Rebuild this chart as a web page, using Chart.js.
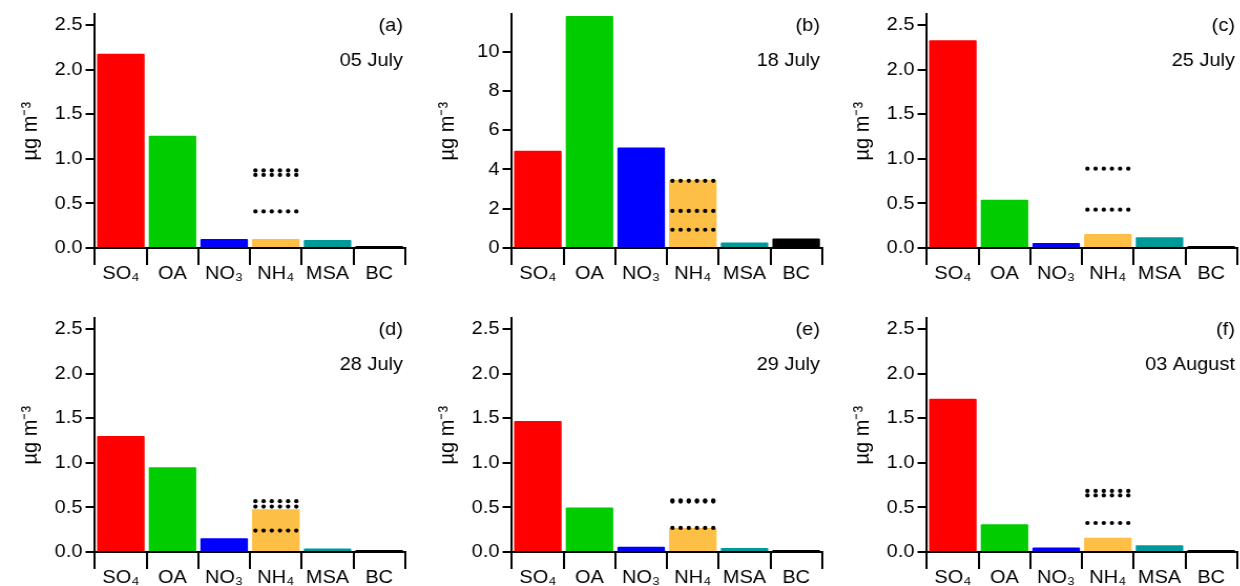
<!DOCTYPE html>
<html>
<head>
<meta charset="utf-8">
<script src="https://cdn.jsdelivr.net/npm/chart.js@4"></script>
<style>
body{margin:0;width:1240px;height:586px;overflow:hidden;background:#fff;position:relative}
.panel{position:absolute;transform-origin:0 0}
</style>
</head>
<body>
<script>
// categories and colours
var labels = ['SO₄','OA','NO₃','NH₄','MSA','BC']
var colors = ['#ff0000','#00cc00','#0000ff','#fdbf45','#009999','#000000']

// one value per panel (a..f)
var panelIds = ['(a)','(b)','(c)','(d)','(e)','(f)']
var dates = ['05 July','18 July','25 July','28 July','29 July','03 August']
var so4 = [2.18, 4.95, 2.33, 1.30, 1.47, 1.72]
var oa  = [1.26, 11.82, 0.54, 0.95, 0.50, 0.31]
var no3 = [0.10, 5.12, 0.055, 0.155, 0.06, 0.05]
var nh4 = [0.10, 3.46, 0.157, 0.48, 0.27, 0.16]
var msa = [0.09, 0.28, 0.12, 0.04, 0.045, 0.075]
var bc  = [0.02, 0.49, 0.015, 0.018, 0.018, 0.018]
// dotted reference levels drawn over the NH4 column
var nh4Ref = [[0.87,0.82,0.41],[3.42,1.89,0.93],[0.89,0.43],[0.57,0.51,0.24],[0.58,0.565,0.27],[0.685,0.635,0.325]]

// axes
var yMax = [2.62, 11.9, 2.62, 2.62, 2.62, 2.62]
var ticksSmall = [0, 0.5, 1, 1.5, 2, 2.5]
var ticksBig = [0, 2, 4, 6, 8, 10]

var S = 1.05 // the figure is a little wider than tall, stretch the canvases
var panelLeft = [0, 417, 832, 0, 417, 832]
var panelTop = [0, 0, 0, 304, 304, 304]
var CW = Math.round(410/S), CH = 290

Chart.defaults.font.family = "'Liberation Sans', Arial, sans-serif"
Chart.defaults.color = '#000'

function makePanel(i){
    var div = document.createElement('div')
    div.className = 'panel'
    div.style.left = panelLeft[i] + 'px'
    div.style.top = panelTop[i] + 'px'
    div.style.transform = 'scaleX(' + S + ')'
    var cv = document.createElement('canvas')
    cv.width = CW; cv.height = CH
    cv.style.width = CW + 'px'; cv.style.height = CH + 'px'
    div.appendChild(cv)
    document.body.appendChild(div)

    var yTicks = i == 1 ? ticksBig : ticksSmall

    var extras = {
        id: 'extras' + i,
        afterDatasetsDraw: function(chart){
            var ctx = chart.ctx
            var ys = chart.scales.y
            var bar = chart.getDatasetMeta(0).data[3]
            var left = bar.x - bar.width/2, w = bar.width
            var step = w*0.86/5
            ctx.save()
            ctx.fillStyle = '#000'
            nh4Ref[i].forEach(function(v){
                var y = ys.getPixelForValue(v)
                for (var k = 0; k < 6; k++){
                    ctx.beginPath()
                    ctx.arc(left + w*0.07 + k*step, y, 2.1, 0, Math.PI*2)
                    ctx.fill()
                }
            })
            ctx.restore()
        },
        afterDraw: function(chart){
            var ctx = chart.ctx, a = chart.chartArea
            ctx.save()
            ctx.fillStyle = '#000'
            ctx.font = "19px 'Liberation Sans', Arial, sans-serif"
            ctx.textAlign = 'right'
            ctx.textBaseline = 'middle'
            ctx.fillText(panelIds[i], a.right - 2, a.top + 11)
            ctx.fillText(dates[i], a.right - 2, a.top + 46)
            ctx.restore()
        }
    }

    new Chart(cv, {
        type: 'bar',
        data: {
            labels: labels,
            datasets: [{
                data: [so4[i], oa[i], no3[i], nh4[i], msa[i], bc[i]],
                backgroundColor: colors,
                borderWidth: 0,
                borderRadius: 1,
                minBarLength: 2,
                barPercentage: 0.92,
                categoryPercentage: 1
            }]
        },
        options: {
            responsive: false,
            animation: false,
            layout: {padding: {top: 14, right: CW - 405/S, bottom: 2, left: 0}},
            plugins: {legend: {display: false}, tooltip: {enabled: false}},
            scales: {
                x: {
                    offset: true,
                    grid: {offset: true, drawOnChartArea: false, tickLength: 17, color: '#000', lineWidth: 2},
                    border: {display: true, color: '#000', width: 2},
                    ticks: {font: {size: 19}, padding: -3, maxRotation: 0, autoSkip: false},
                    afterFit: function(s){ s.height = 40 }
                },
                y: {
                    min: 0, max: yMax[i],
                    afterBuildTicks: function(s){ s.ticks = yTicks.map(function(v){ return {value: v} }) },
                    afterFit: function(s){ s.width = 95/S },
                    border: {display: true, color: '#000', width: 2},
                    grid: {drawOnChartArea: false, tickLength: 9, color: '#000', lineWidth: 2},
                    ticks: {
                        font: {size: 19}, padding: 3,
                        callback: function(v){ return i == 1 ? String(v) : v.toFixed(1) }
                    },
                    title: {display: true, text: 'µg m⁻³', font: {size: 20}, padding: {top: 17, bottom: 0}}
                }
            }
        },
        plugins: [extras]
    })
}

for (var i = 0; i < 6; i++) makePanel(i)
</script>
</body>
</html>
